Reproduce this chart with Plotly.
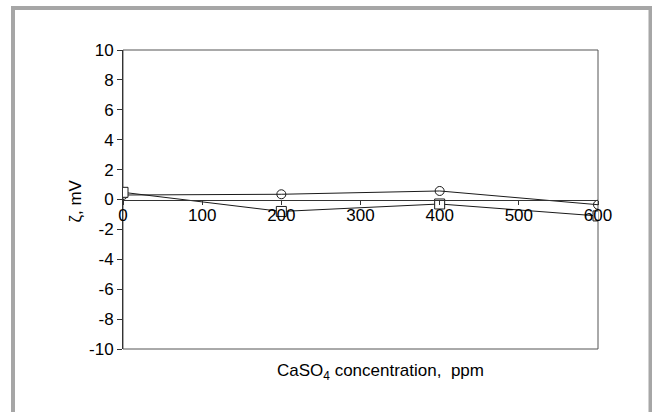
import plotly.graph_objects as go

conc = [0, 200, 400, 600]
zeta_circles = [0.3, 0.35, 0.57, -0.35]
zeta_squares = [0.48, -0.8, -0.3, -1.1]
x_ticks = [0, 100, 200, 300, 400, 500, 600]
y_ticks = [-10, -8, -6, -4, -2, 0, 2, 4, 6, 8, 10]
y_tick_labels = ["-10", "-8", "-6", "-4", "-2", "0", "2", "4", "6", "8", "10"]

L, R, T, B = 123, 598, 50, 349
W, H = 652, 412

def px_x(p):
    return (p - L) / (R - L)

def px_y(p):
    return (B - p) / (B - T)

fam = "Liberation Sans, Arial, sans-serif"
tick_font = dict(family=fam, size=17, color="black")
title_font = dict(family=fam, size=17, color="black")

fig = go.Figure()
fig.add_trace(go.Scatter(
    x=conc, y=zeta_circles, mode="lines+markers",
    line=dict(color="#1a1a1a", width=1),
    marker=dict(symbol="circle-open", size=9, color="#1a1a1a", line=dict(width=1)),
    showlegend=False,
))
fig.add_trace(go.Scatter(
    x=conc, y=zeta_squares, mode="lines+markers",
    line=dict(color="#1a1a1a", width=1),
    marker=dict(symbol="square", size=10, color="white", line=dict(width=1, color="#1a1a1a")),
    showlegend=False,
))

fig.update_layout(
    width=W, height=H,
    margin=dict(l=L, r=W - R, t=T, b=H - B),
    paper_bgcolor="white", plot_bgcolor="white",
    font=tick_font,
    xaxis=dict(
        range=[0, 600], tickvals=x_ticks, ticks="outside", ticklen=4,
        tickcolor="#333", showline=True, linecolor="#333", linewidth=1,
        showgrid=False, zeroline=False, anchor="free", position=0.5,
        tickfont=tick_font, ticklabelstandoff=-4,
    ),
    yaxis=dict(
        range=[-10, 10], tickvals=y_ticks, ticktext=y_tick_labels,
        ticks="outside", ticklen=5,
        tickcolor="#333", showline=True, linecolor="#333", linewidth=1,
        showgrid=False, zeroline=False, domain=[0, 1],
        tickfont=tick_font,
    ),
    shapes=[
        dict(type="rect", xref="paper", yref="paper", x0=0, x1=1, y0=0, y1=1,
             line=dict(color="#555", width=1), layer="below"),
        dict(type="rect", xref="paper", yref="paper",
             x0=px_x(13), x1=px_x(650.5), y0=px_y(430), y1=px_y(8),
             line=dict(color="#a6a6a6", width=4), layer="below"),
    ],
    annotations=[
        dict(text="CaSO<sub>4</sub> concentration,  ppm", xref="paper", yref="paper",
             x=px_x(380), y=px_y(385), showarrow=False, font=title_font),
        dict(text="ζ, mV", xref="paper", yref="paper", textangle=-90,
             x=px_x(63), y=px_y(201), showarrow=False, font=title_font),
    ],
)

fig.write_html("out.html", config={"displayModeBar": False},
               post_script="document.body.style.margin='0';")
